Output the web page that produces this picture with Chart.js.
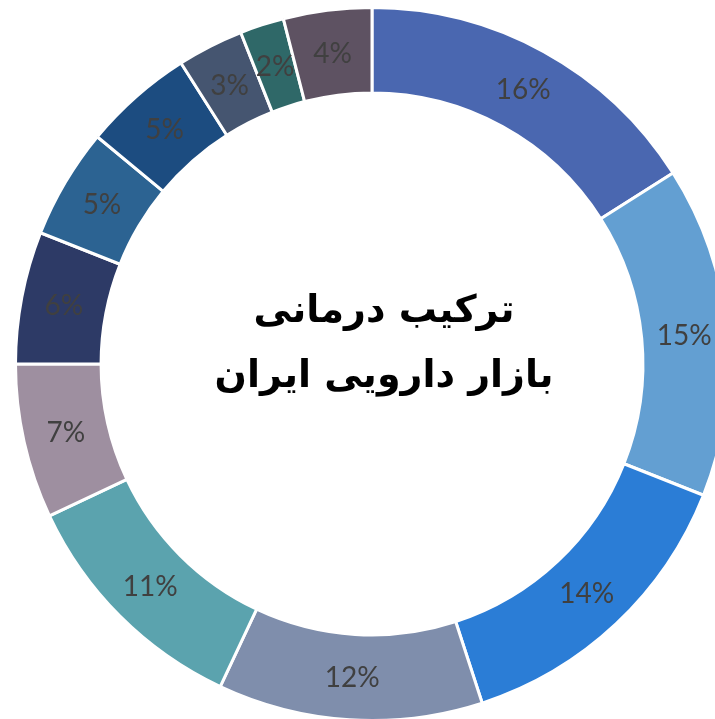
<!DOCTYPE html>
<html>
<head>
<meta charset="utf-8">
<script src="https://cdn.jsdelivr.net/npm/chart.js@4"></script>
<style>
html,body{margin:0;padding:0;background:#fff;overflow:hidden;width:715px;height:719px;}
#wrap{position:absolute;left:0;top:0;width:744px;height:728px;}
</style>
</head>
<body>
<div id="wrap"><canvas id="c"></canvas></div>
<script>
const categories = ["A","B","C","D","E","F","G","H","I","J","K","L"];
const values = [16, 15, 14, 12, 11, 7, 6, 5, 5, 3, 2, 4];
const labels = ["16%","15%","14%","12%","11%","7%","6%","5%","5%","3%","2%","4%"];
const colors = ["#4A67B0","#639FD2","#2B7DD6","#7F8EAC","#5BA3AE","#9E8FA0","#2D3A66","#2C6392","#1C4C80","#455570","#2F6868","#5E5262"];
const titleLines = ["ترکیب درمانی","بازار دارویی ایران"];

const labelPlugin = {
  id: 'lbl',
  afterDatasetsDraw(chart) {
    const ctx = chart.ctx;
    const meta = chart.getDatasetMeta(0);
    ctx.save();
    ctx.font = '28px Lato';
    ctx.fillStyle = '#404040';
    ctx.textAlign = 'center';
    ctx.textBaseline = 'middle';
    meta.data.forEach((arc, i) => {
      const p = arc.getProps(['x','y','startAngle','endAngle','innerRadius','outerRadius'], true);
      const a = (p.startAngle + p.endAngle) / 2;
      const r = (p.innerRadius + p.outerRadius) / 2;
      ctx.fillText(labels[i], p.x + r * Math.cos(a), p.y + r * Math.sin(a) + 1);
    });
    const a0 = meta.data[0];
    ctx.font = 'bold 38px "DejaVu Sans"';
    ctx.fillStyle = '#000';
    ctx.direction = 'rtl';
    ctx.fillText(titleLines[0], a0.x + 12, a0.y - 52);
    ctx.fillText(titleLines[1], a0.x + 12, a0.y + 13);
    ctx.restore();
  }
};

new Chart(document.getElementById('c'), {
  type: 'doughnut',
  data: {
    labels: categories,
    datasets: [{
      data: values,
      backgroundColor: colors,
      borderColor: '#ffffff',
      borderWidth: 3
    }]
  },
  options: {
    responsive: true,
    maintainAspectRatio: false,
    animation: false,
    cutout: '76%',
    layout: { padding: { top: 6, bottom: 6, left: 0, right: 0 } },
    plugins: { legend: { display: false }, tooltip: { enabled: false } }
  },
  plugins: [labelPlugin]
});
</script>
</body>
</html>
